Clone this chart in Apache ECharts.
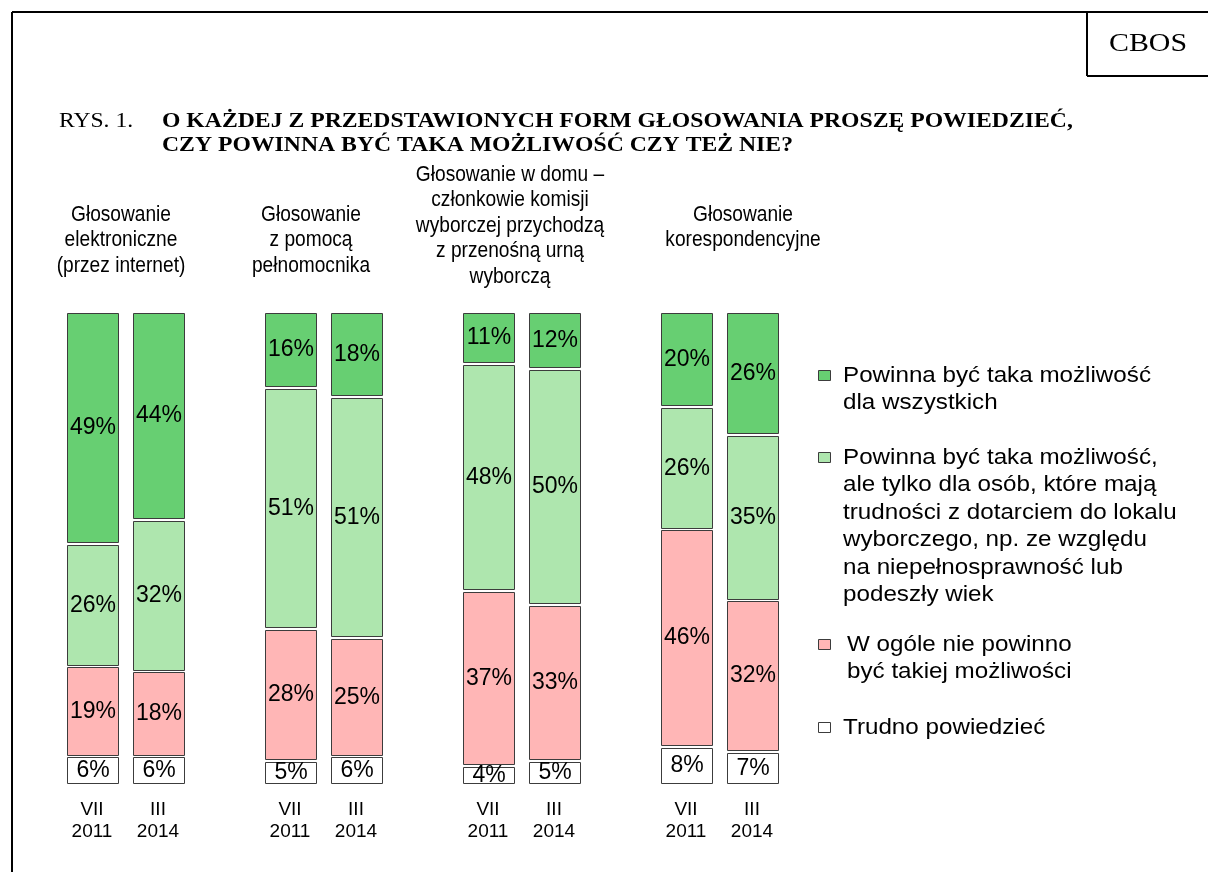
<!DOCTYPE html>
<html>
<head>
<meta charset="utf-8">
<script src="https://cdn.jsdelivr.net/npm/echarts@6/dist/echarts.min.js"></script>
<style>
html,body{margin:0;padding:0;background:#fff;}
#chart{width:1208px;height:872px;}
</style>
</head>
<body>
<div id="chart"></div>
<script>
// ---- data ----
const periodLabels = ['VII\n2011', 'III\n2014'];
const groupTitles = [
  'Głosowanie\nelektroniczne\n(przez internet)',
  'Głosowanie\nz pomocą\npełnomocnika',
  'Głosowanie w domu –\nczłonkowie komisji\nwyborczej przychodzą\nz przenośną urną\nwyborczą',
  'Głosowanie\nkorespondencyjne'
];
const seriesNames = [
  'Powinna być taka możliwość\ndla wszystkich',
  'Powinna być taka możliwość,\nale tylko dla osób, które mają\ntrudności z dotarciem do lokalu\nwyborczego, np. ze względu\nna niepełnosprawność lub\npodeszły wiek',
  'W ogóle nie powinno\nbyć takiej możliwości',
  'Trudno powiedzieć'
];
const allVoters    = [49, 44, 16, 18, 11, 12, 20, 26];
const onlyDisabled = [26, 32, 51, 51, 48, 50, 26, 35];
const neverAllowed = [19, 18, 28, 25, 37, 33, 46, 32];
const hardToSay    = [6, 6, 5, 6, 4, 5, 8, 7];

// ---- build ----
const colors = ['#67CF72', '#AEE6AE', '#FFB6B6', '#FFFFFF'];
// stacking order bottom -> top
const stackOrder = [hardToSay, neverAllowed, onlyDisabled, allVoters];
const stackColorIdx = [3, 2, 1, 0];

const categories = [];
for (let g = 0; g < groupTitles.length; g++) {
  categories.push(periodLabels[0], periodLabels[1]);
  if (g < groupTitles.length - 1) categories.push('');
}
function slotOf(i) { return Math.floor(i / 2) * 3 + (i % 2); }

const BAR_RATIO = 51 / 66;
const GAP = 1.3;

const series = stackOrder.map((vals, k) => {
  const data = vals.map((v, i) => {
    let base = 0;
    for (let j = 0; j < k; j++) base += stackOrder[j][i];
    return [slotOf(i), base, base + v, v];
  });
  const ci = stackColorIdx[k];
  return {
    type: 'custom',
    name: seriesNames[ci],
    data: data,
    encode: { x: 0, y: [1, 2] },
    renderItem: function (params, api) {
      const x = api.value(0), y0 = api.value(1), y1 = api.value(2), v = api.value(3);
      const p0 = api.coord([x, y0]);
      const p1 = api.coord([x, y1]);
      const w = api.size([1, 0])[0] * BAR_RATIO;
      const left = Math.round(p0[0] - w / 2) + 0.5;
      const top = Math.round(p1[1] + GAP) + 0.5;
      const bot = Math.round(p0[1] - GAP) + 0.5;
      return {
        type: 'rect',
        shape: { x: left, y: top, width: Math.round(w), height: bot - top },
        style: { fill: colors[ci], stroke: '#3c3c3c', lineWidth: 1 },
        textContent: {
          style: { text: v + '%', fill: '#000', font: '23px "Liberation Sans", Arial, sans-serif' }
        },
        textConfig: { position: 'inside' }
      };
    }
  };
});

// legend drawn as graphic
const legendTops = [376, 458, 645, 728];
const legendGraphics = [];
seriesNames.forEach((name, i) => {
  legendGraphics.push({
    type: 'rect',
    shape: { x: 818.5, y: legendTops[i] - 5.5, width: 12, height: 10 },
    style: { fill: colors[i], stroke: '#3c3c3c', lineWidth: 1 }
  });
  legendGraphics.push({
    type: 'text',
    x: i === 2 ? 847 : 843,
    y: legendTops[i] - 13.7,
    scaleX: 1.1,
    style: {
      text: name, fill: '#000',
      font: '22px "Liberation Sans", Arial, sans-serif',
      lineHeight: 27.4, verticalAlign: 'top'
    }
  });
});

// group titles
const titleCenters = [121, 311, 510, 743];
const titleTops = [202, 202, 162, 202];
const groupGraphics = groupTitles.map((t, g) => ({
  type: 'text',
  x: titleCenters[g],
  y: titleTops[g],
  scaleX: 0.87,
  style: {
    text: t, fill: '#000', align: 'center', verticalAlign: 'top',
    font: '22px "Liberation Sans", Arial, sans-serif',
    lineHeight: 25.5
  }
}));

const chart = echarts.init(document.getElementById('chart'));
chart.setOption({
  animation: false,
  backgroundColor: '#fff',
  grid: { left: 59, width: 726, top: 311.7, bottom: 872 - 784.3 },
  xAxis: {
    type: 'category',
    data: categories,
    axisLine: { show: false },
    axisTick: { show: false },
    axisLabel: {
      color: '#000', fontSize: 19, lineHeight: 22, margin: 14,
      fontFamily: '"Liberation Sans", Arial, sans-serif', interval: 0
    }
  },
  yAxis: { type: 'value', min: 0, max: 100, show: false },
  series: series,
  graphic: [
    { type: 'line', shape: { x1: 12, y1: 12, x2: 1208, y2: 12 }, style: { stroke: '#000', lineWidth: 2 } },
    { type: 'line', shape: { x1: 12, y1: 12, x2: 12, y2: 872 }, style: { stroke: '#000', lineWidth: 2 } },
    { type: 'line', shape: { x1: 1087, y1: 12, x2: 1087, y2: 76 }, style: { stroke: '#000', lineWidth: 2 } },
    { type: 'line', shape: { x1: 1087, y1: 76, x2: 1208, y2: 76 }, style: { stroke: '#000', lineWidth: 2 } },
    { type: 'text', x: 1148, y: 44, scaleX: 1.15, style: { text: 'CBOS', fill: '#000', align: 'center', verticalAlign: 'middle', font: '26px "Liberation Serif", "Times New Roman", serif' } },
    { type: 'text', x: 59, y: 122, scaleX: 1.18, style: { text: 'RYS. 1.', fill: '#000', verticalAlign: 'middle', font: '20px "Liberation Serif", "Times New Roman", serif' } },
    { type: 'text', x: 162, y: 122, scaleX: 1.185, style: { text: 'O KAŻDEJ Z PRZEDSTAWIONYCH FORM GŁOSOWANIA PROSZĘ POWIEDZIEĆ,', fill: '#000', verticalAlign: 'middle', font: 'bold 20px "Liberation Serif", "Times New Roman", serif' } },
    { type: 'text', x: 162, y: 146, scaleX: 1.185, style: { text: 'CZY POWINNA BYĆ TAKA MOŻLIWOŚĆ CZY TEŻ NIE?', fill: '#000', verticalAlign: 'middle', font: 'bold 20px "Liberation Serif", "Times New Roman", serif' } }
  ].concat(legendGraphics, groupGraphics)
});
</script>
</body>
</html>
